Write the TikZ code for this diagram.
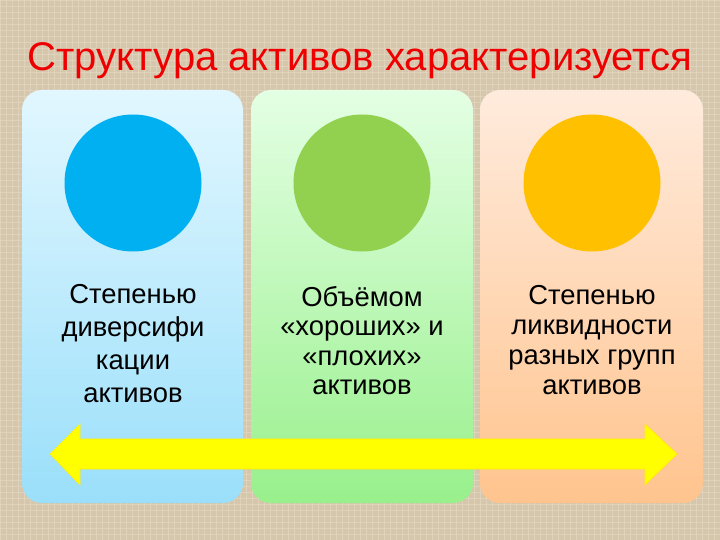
\documentclass[tikz,border=0pt]{standalone}
\usepackage{fontspec}
\setmainfont{Liberation Sans}
\usetikzlibrary{shadings}
\definecolor{bg}{HTML}{D6C6AC}
\definecolor{bgline}{HTML}{E6DAC6}
\definecolor{titlered}{HTML}{EE0000}
\definecolor{blueTop}{HTML}{E2F7FF}
\definecolor{blueBot}{HTML}{9ADFFA}
\definecolor{greenTop}{HTML}{E4FFE4}
\definecolor{greenBot}{HTML}{98F08C}
\definecolor{peachTop}{HTML}{FFEBDD}
\definecolor{peachBot}{HTML}{FFC48E}
\definecolor{cblue}{HTML}{00B0F0}
\definecolor{cgreen}{HTML}{92D050}
\definecolor{corange}{HTML}{FFC000}
\definecolor{arrowY}{HTML}{FFFF00}
\tikzset{
  panel/.style={rounded corners=20bp},
  disc/.style={circle, minimum size=137bp, inner sep=0pt},
  body/.style={align=center, text=black, anchor=base},
}
\begin{document}
\begin{tikzpicture}[x=1bp,y=-1bp]
\useasboundingbox (0,0) rectangle (720,540);
\fill[bg] (0,0) rectangle (720,540);
\foreach \i in {0,6,...,720} {\draw[bgline, line width=0.6bp, opacity=0.6] (\i,0) -- (\i,540);}
\foreach \j in {0,6,...,540} {\draw[bgline, line width=0.6bp, opacity=0.6] (0,\j) -- (720,\j);}
\node[font=\fontsize{40.2}{44}\selectfont, text=titlered, anchor=base] (title) at (360,71) {Структура активов характеризуется};
\shade[panel, top color=blueTop, bottom color=blueBot] (22,90) rectangle (243,503);
\shade[panel, top color=greenTop, bottom color=greenBot] (251,90) rectangle (473,503);
\shade[panel, top color=peachTop, bottom color=peachBot] (480,90) rectangle (703,503);
\node[disc, fill=cblue] (c1) at (133,183) {};
\node[disc, fill=cgreen] (c2) at (362,183) {};
\node[disc, fill=corange] (c3) at (592,183) {};
\node[body, font=\fontsize{27.5}{33}\selectfont] (t1) at (133,402) {Степенью\\диверсифи\\кации\\активов};
\node[body, font=\fontsize{27.5}{29.5}\selectfont] (t2) at (362,394.5) {Объёмом\\«хороших» и\\«плохих»\\активов};
\node[body, font=\fontsize{27.5}{30}\selectfont] (t3) at (592,394) {Степенью\\ликвидности\\разных групп\\активов};
\fill[arrowY, draw=arrowY!85!orange, line width=0.6bp]
  (50,454) -- (80,424) -- (80,439) -- (645,439) -- (645,424) -- (677,454)
  -- (645,485) -- (645,469) -- (80,469) -- (80,485) -- cycle;
\end{tikzpicture}
\end{document}
